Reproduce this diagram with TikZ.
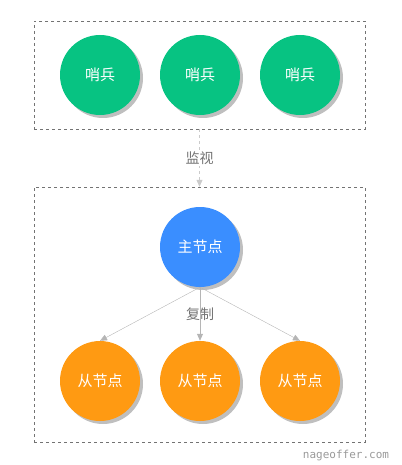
\documentclass[tikz,border=0pt]{standalone}
\usepackage{fontspec}
\newfontfamily\cjk{Noto Sans CJK SC}
\setmonofont{DejaVu Sans Mono}
\usetikzlibrary{arrows.meta,shadows}
\definecolor{cgreen}{HTML}{07C382}
\definecolor{cblue}{HTML}{3A8EFF}
\definecolor{corange}{HTML}{FF9A12}
\definecolor{cline}{HTML}{B5B5B5}

\begin{document}
\begin{tikzpicture}[x=1pt,y=-1pt,>={Triangle[length=7pt,width=6pt]},node distance=100pt,
  base node/.style={circle,minimum size=80pt,inner sep=0pt,text=white,font=\cjk\fontsize{15}{15}\selectfont,
        drop shadow={shadow xshift=3pt,shadow yshift=-3pt,fill=black!25,opacity=1}},
  sentinel node/.style={base node,fill=cgreen},
  master node/.style={base node,fill=cblue},
  slave node/.style={base node,fill=corange},
  group box/.style={draw=black!55,dashed,minimum width=331pt,inner sep=0pt},
  edge label/.style={fill=white,text=black!55,font=\cjk\fontsize{14}{14}\selectfont,inner sep=2pt}]
  \useasboundingbox (0,0) rectangle (401,465);
  % groups
  \node[group box,minimum height=108pt] (sentinels) at (199.5,75) {};
  \node[group box,minimum height=255pt] (cluster) at (199.5,314.5) {};
  % sentinels
  \node[sentinel node] (s2) at (200,75) {哨兵};
  \node[sentinel node] (s1) [left of=s2] {哨兵};
  \node[sentinel node] (s3) [right of=s2] {哨兵};
  % master and slaves
  \node[master node] (m) at (200,247) {主节点};
  \node[slave node] (r2) at (200,381) {从节点};
  \node[slave node] (r1) [left of=r2] {从节点};
  \node[slave node] (r3) [right of=r2] {从节点};

  \draw[->,cline!70,dashed,thick] (sentinels.south) -- (cluster.north)
    node[edge label,pos=0.5] {监视};
  \path[->,cline]
    (m.south) edge (r1.north)
    (m.south) edge (r3.north);
  \draw[->,cline,thick] (m.south) -- (r2.north);
  \node[edge label,fill=none] (copy) at (200,314) {复制};

  \node[text=black!40,font=\ttfamily\fontsize{11}{11}\selectfont] (mark) at (346,455) {nageoffer.com};
\end{tikzpicture}
\end{document}
